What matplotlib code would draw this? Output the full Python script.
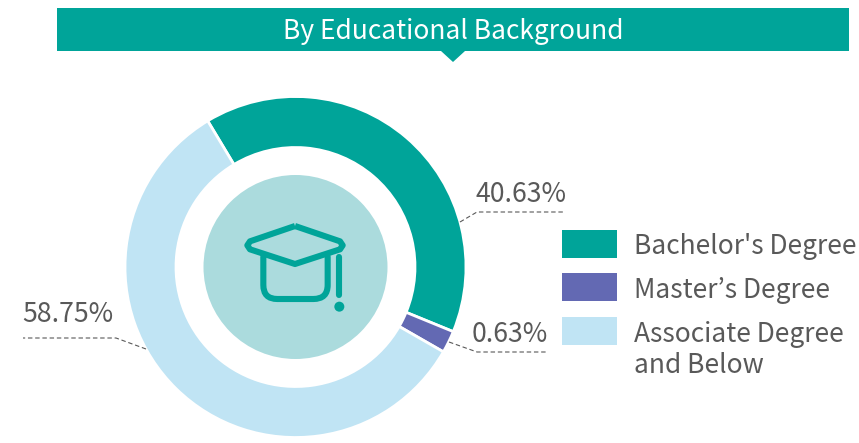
import matplotlib
matplotlib.use("Agg")
import matplotlib.pyplot as plt
from matplotlib.patches import Rectangle, Polygon, Circle, PathPatch
from matplotlib.path import Path

categories = ["Bachelor's Degree", "Master’s Degree", "Associate Degree\nand Below"]
value_labels = ["40.63%", "0.63%", "58.75%"]
# Arc shares as drawn in the picture (the small slice is drawn wider than its label)
drawn_shares = [39.8, 2.1, 58.1]
colors = ["#00A499", "#6369B3", "#C0E4F4"]

W, H = 859, 443
TEAL = "#00A499"
GREY = "#595959"
plt.rcParams["font.family"] = ["Noto Sans CJK KR", "DejaVu Sans"]

fig = plt.figure(figsize=(W / 100, H / 100), dpi=100)
ax = fig.add_axes([0, 0, 1, 1])
ax.set_xlim(0, W)
ax.set_ylim(0, H)
ax.axis("off")


def Y(py):
    return H - py


# Banner
ax.add_patch(Rectangle((57, Y(51)), 792, 43, fc=TEAL, ec="none"))
ax.add_patch(Polygon([(441, Y(51)), (465, Y(51)), (453, Y(62))], fc=TEAL, ec="none"))
ax.text(453, Y(31), "By Educational Background", color="white", fontsize=19,
        fontweight="light", ha="center", va="center")

# Donut
cx, cy = 295.5, Y(267)
ax.pie(drawn_shares, colors=colors, center=(cx, cy), radius=170.5, startangle=121,
       counterclock=False, frame=True,
       wedgeprops=dict(width=51, edgecolor="white", linewidth=2))
ax.set_xlim(0, W)
ax.set_ylim(0, H)
ax.set_aspect("auto")
ax.axis("off")
ax.add_patch(Circle((cx, cy), 92, fc="#ABDBDD", ec="none"))


# Icon (zoomed-crop coordinates of the glyph)
def ic(zx, zy):
    return (200 + zx / 3, Y(170 + zy / 3))


lw = 4.4
cap = [(285, 168), (420, 214), (428, 226), (420, 238), (285, 282), (150, 238), (142, 226), (150, 214), (285, 168)]
ax.add_patch(PathPatch(Path([ic(*p) for p in cap]), fc="none", ec=TEAL, lw=lw, joinstyle="round"))
body = Path([ic(190, 260), ic(190, 345), ic(190, 387), ic(232, 387), ic(340, 387), ic(383, 387), ic(383, 345), ic(383, 260)],
            [Path.MOVETO, Path.LINETO, Path.CURVE3, Path.CURVE3, Path.LINETO, Path.CURVE3, Path.CURVE3, Path.LINETO])
ax.add_patch(PathPatch(body, fc="none", ec=TEAL, lw=lw, capstyle="round"))
ax.plot(*zip(ic(418, 262), ic(418, 376)), color=TEAL, lw=lw, solid_capstyle="round")
ax.add_patch(Circle(ic(418, 410), 5, fc=TEAL, ec="none"))

# Value labels and leader lines
label_pos = [(521, 194), (510, 335), (68, 315)]
leaders = [
    [(460, 222), (477, 212), (565, 212)],
    [(449, 342), (477, 352), (548, 352)],
    [(146, 349), (116, 338), (23, 338)],
]
for txt, (x, y), pts in zip(value_labels, label_pos, leaders):
    ax.text(x, Y(y), txt, color=GREY, fontsize=19.2, fontweight="light", ha="center", va="center")
    ax.plot([p[0] for p in pts], [Y(p[1]) for p in pts], color=GREY, lw=0.8, ls=(0, (4, 2.5)))

# Legend
swatch_tops = [230, 273, 317]
text_y = [247, 290, 350]
for name, col, top, ty in zip(categories, colors, swatch_tops, text_y):
    ax.add_patch(Rectangle((562, Y(top + 28)), 55, 28, fc=col, ec="none"))
    ax.text(634, Y(ty), name, color=GREY, fontsize=19, fontweight="light", ha="left", va="center",
            linespacing=1.18)

fig.savefig("out.png", dpi=100)
